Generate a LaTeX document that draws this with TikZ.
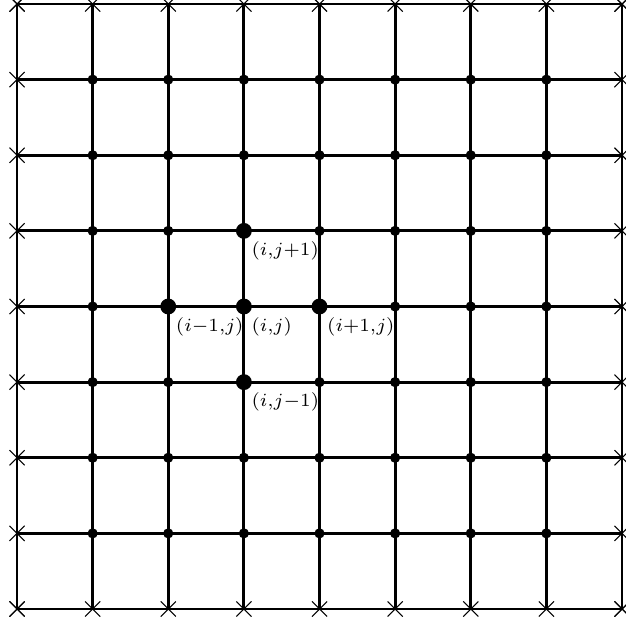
\documentclass[tikz,border=0pt]{standalone}
\usetikzlibrary{shapes.misc}
\tikzset{
  gridline/.style={line width=1.05pt},
  bcross/.style={cross out, draw, line width=0.4pt, minimum size=0.2cm, inner sep=0pt, outer sep=0pt},
  sdot/.style={circle, fill, inner sep=0pt, minimum size=0.135cm},
  bdot/.style={circle, fill, inner sep=0pt, minimum size=0.21cm},
  lab/.style={anchor=north west, inner sep=1pt, xshift=0.06cm, yshift=-0.1cm, font=\scriptsize}
}
\begin{document}
\begin{tikzpicture}
\useasboundingbox (-0.225,-0.21) rectangle (8.053,8.053);
% boundary crosses
\foreach \k in {0,...,8}{
  \node[bcross] (b-\k-0) at (\k,0) {};
  \node[bcross] (b-\k-8) at (\k,8) {};
  \node[bcross] (b-0-\k) at (0,\k) {};
  \node[bcross] (b-8-\k) at (8,\k) {};
}
% grid lines
\foreach \k in {0,...,8}{
  \draw[gridline] (b-\k-0.center) -- (b-\k-8.center);
  \draw[gridline] (b-0-\k.center) -- (b-8-\k.center);
}
% interior dots
\foreach \x in {1,...,7}{
  \foreach \y in {1,...,7}{
    \node[sdot] (p-\x-\y) at (\x,\y) {};
  }
}
% highlighted stencil
\node[bdot] (c) at (3,4) {};
\node[bdot] (n) at (3,5) {};
\node[bdot] (s) at (3,3) {};
\node[bdot] (w) at (2,4) {};
\node[bdot] (e) at (4,4) {};
\node[lab] (lc) at (c.center) {$(i{,}j)$};
\node[lab] (ln) at (n.center) {$(i{,}j{+}1)$};
\node[lab] (ls) at (s.center) {$(i{,}j{-}1)$};
\node[lab] (lw) at (w.center) {$(i{-}1{,}j)$};
\node[lab] (le) at (e.center) {$(i{+}1{,}j)$};
\end{tikzpicture}
\end{document}
